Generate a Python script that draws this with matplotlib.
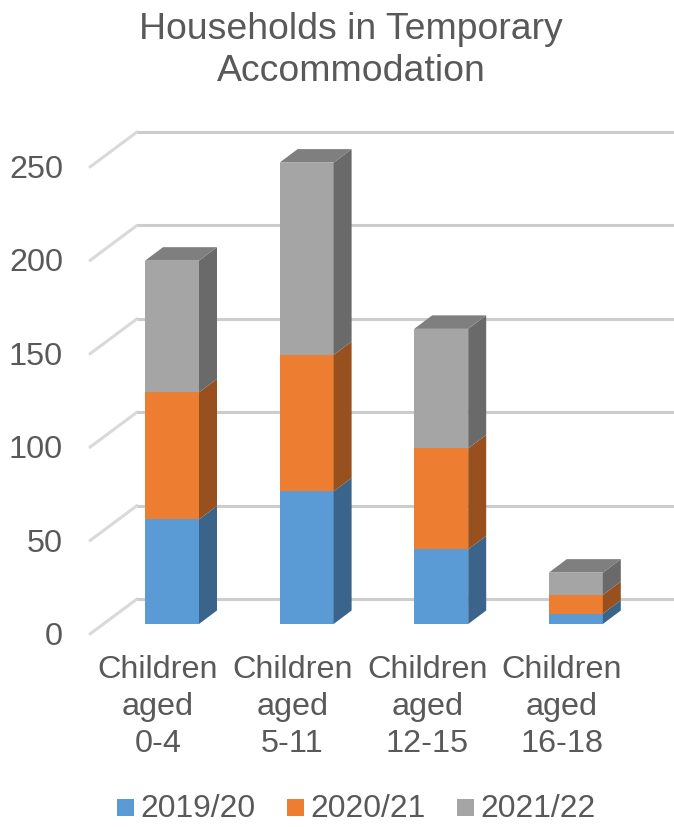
import matplotlib
matplotlib.use('Agg')
import matplotlib.pyplot as plt
from matplotlib.patches import Rectangle

categories = ['Children\naged\n0-4', 'Children\naged\n5-11', 'Children\naged\n12-15', 'Children\naged\n16-18']
years = ['2019/20', '2020/21', '2021/22']
values_1920 = [56, 71, 40, 5.5]
values_2021 = [68, 73, 54, 10]
values_2122 = [70.5, 103, 64, 12]
y_ticks = [0, 50, 100, 150, 200, 250]

front_colors = ['#5B9BD5', '#ED7D31', '#A5A5A5']
side_colors = ['#3A6489', '#98501F', '#6A6A6A']
top_color = '#7F7F7F'

W, H = 674, 827
# pixel layout of the chart: value 0 sits at y0_px, one category is x_step px
x0_px, x_step = 172.0, 134.6
y0_px, y_scale = 624.0, 1.868

plt.rcParams['font.family'] = ['Liberation Sans', 'DejaVu Sans']
fig = plt.figure(figsize=(W / 100, H / 100), dpi=100)
ax = fig.add_axes([0, 0, 1, 1])
ax.set_xlim(-x0_px / x_step, (W - x0_px) / x_step)
ax.set_ylim((y0_px - H) / y_scale, y0_px / y_scale)
ax.axis('off')

bar_w = 54 / x_step
# bar depth and wall depth, in data units
bar_dx, bar_dy = 18 / x_step, 13.5 / y_scale
wall_dx, wall_dy = 47 / x_step, 35 / y_scale
# front plane of the walls is a bit lower than the bar bottoms
front_x = (90 - x0_px) / x_step
front_dy = -10 / y_scale
right_x = (674 - x0_px) / x_step
font_size = 23.3

for t in y_ticks:
    y = t + front_dy
    ax.plot([front_x, front_x + wall_dx], [y, y + wall_dy],
            color='#D9D9D9', lw=2.2, solid_capstyle='round', zorder=1)
    ax.plot([front_x + wall_dx, right_x], [y + wall_dy, y + wall_dy],
            color='#CDCDCD', lw=2.2, solid_capstyle='butt', zorder=1)
    ax.text(front_x - 27 / x_step, t - 13 / y_scale, str(t), ha='right', va='center',
            fontsize=font_size, color='#595959')

series = [values_1920, values_2021, values_2122]
for i in range(len(categories)):
    bottom = 0
    left = i - bar_w / 2
    right = i + bar_w / 2
    for s, vals in enumerate(series):
        v = vals[i]
        ax.add_patch(Rectangle((left, bottom), bar_w, v, fc=front_colors[s], ec='none', zorder=3))
        ax.fill([right, right + bar_dx, right + bar_dx, right],
                [bottom, bottom + bar_dy, bottom + v + bar_dy, bottom + v],
                fc=side_colors[s], ec='none', zorder=3)
        bottom += v
    ax.fill([left, left + bar_dx, right + bar_dx, right],
            [bottom, bottom + bar_dy, bottom + bar_dy, bottom],
            fc=top_color, ec='none', zorder=3)
    # category labels sit left of the bars because of the 3D depth
    ax.text(i - 14 / x_step, (y0_px - 655) / y_scale, categories[i], ha='center', va='top',
            fontsize=font_size, color='#595959', linespacing=1.3)

ax.text((351 - x0_px) / x_step, (y0_px - 50.5) / y_scale, 'Households in Temporary\nAccommodation',
        ha='center', va='center', fontsize=26.9, color='#595959', linespacing=1.26)

# legend
legend_sw = [117, 287, 457]
for s, name in enumerate(years):
    lx = (legend_sw[s] - x0_px) / x_step
    ly = (y0_px - 816) / y_scale
    ax.add_patch(Rectangle((lx, ly), 17 / x_step, 17 / y_scale, fc=front_colors[s], ec='none'))
    ax.text(lx + 23.5 / x_step, ly + 7 / y_scale, name, ha='left', va='center',
            fontsize=22.9, color='#595959')

fig.savefig('out.png', dpi=100)
